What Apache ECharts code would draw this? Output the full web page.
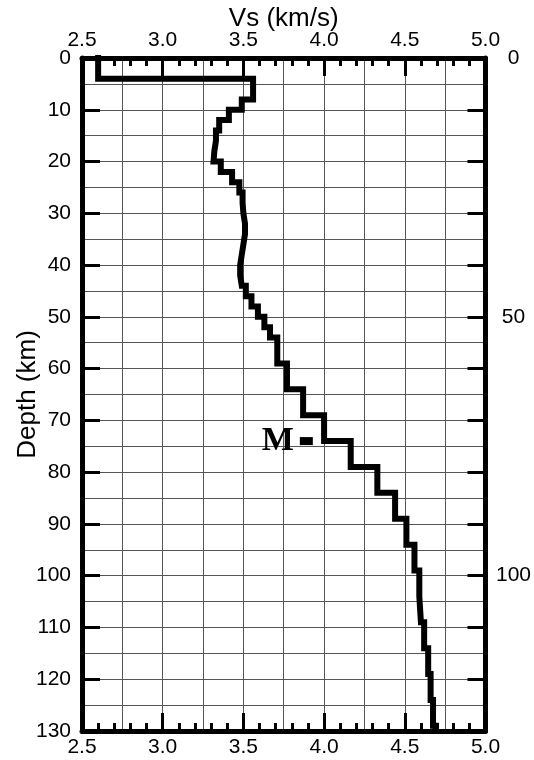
<!DOCTYPE html>
<html lang="en">
<head>
    <meta charset="UTF-8" />
    <title>Vs profile</title>
    <script src="https://cdn.jsdelivr.net/npm/echarts@6/dist/echarts.min.js"></script>
    <style>
        html, body {
            margin: 0;
            padding: 0;
            background: #ffffff;
        }
        #chart {
            width: 534px;
            height: 760px;
        }
    </style>
</head>
<body>
<div id="chart"></div>
<script>
    // layer bottoms (km) and shear velocity of each layer (km/s)
    const layerBottoms = [4, 8, 10, 12, 14, 16, 18, 20, 22, 24, 26, 28, 30, 32, 34, 36, 38, 40, 42, 44, 46, 48, 50, 52, 54,
        59, 64, 69, 74, 79, 84, 89, 94, 99, 104, 109, 114, 119, 124, 129, 130];
    const vsValues = [2.60, 3.56, 3.49, 3.41, 3.35, 3.33, 3.32, 3.315, 3.36, 3.43, 3.475, 3.495, 3.50, 3.51, 3.51, 3.50, 3.49, 3.48, 3.48, 3.49, 3.515, 3.55, 3.59, 3.63, 3.665,
        3.71, 3.77, 3.87, 4.00, 4.165, 4.33, 4.44, 4.51, 4.56, 4.59, 4.60, 4.62, 4.645, 4.66, 4.675, 4.69];
    const mohoDepth = 74;
    const mohoVs = 3.89;
    const mohoLabel = 'M';

    // build the staircase from the layers
    const profile = [];
    let layerTop = 0;
    layerBottoms.forEach((bottom, i) => {
        profile.push([vsValues[i], layerTop]);
        profile.push([vsValues[i], bottom]);
        layerTop = bottom;
    });

    const sans = 'Liberation Sans';
    const black = '#000';

    const chart = echarts.init(document.getElementById('chart'), null, { renderer: 'canvas' });

    const xMain = (position) => ({
        type: 'value',
        position: position,
        min: 2.5,
        max: 5.0,
        interval: 0.5,
        axisLine: { show: true, onZero: false, lineStyle: { color: black, width: 5 } },
        axisTick: { show: true, inside: true, length: 18, lineStyle: { color: black, width: 3 } },
        minorTick: { show: true, splitNumber: 5, length: 8, lineStyle: { color: black, width: 3 } },
        axisLabel: {
            margin: position === 'top' ? 7 : 6,
            color: black,
            fontFamily: sans,
            fontSize: 21,
            formatter: v => v.toFixed(1)
        },
        splitLine: { show: false }
    });

    const option = {
        animation: false,
        grid: { left: 82, right: 47, top: 58, bottom: 29 },
        xAxis: [
            {
                type: 'value',
                min: 2.5,
                max: 5.0,
                interval: 0.25,
                axisLine: { show: false },
                axisTick: { show: false },
                axisLabel: { show: false },
                splitLine: { show: true, lineStyle: { color: '#555', width: 1 } }
            },
            Object.assign(xMain('top'), {
                name: 'Vs (km/s)',
                nameLocation: 'middle',
                nameGap: 26,
                nameMoveOverlap: false,
                nameTextStyle: { color: black, fontFamily: sans, fontSize: 26 }
            }),
            xMain('bottom')
        ],
        yAxis: [
            {
                type: 'value',
                position: 'left',
                inverse: true,
                min: 0,
                max: 130,
                interval: 10,
                name: 'Depth (km)',
                nameLocation: 'middle',
                nameGap: 41,
                nameMoveOverlap: false,
                nameTextStyle: { color: black, fontFamily: sans, fontSize: 26 },
                axisLine: { show: true, onZero: false, lineStyle: { color: black, width: 5 } },
                axisTick: { show: true, inside: true, length: 18, lineStyle: { color: black, width: 3 } },
                axisLabel: { margin: 11, color: black, fontFamily: sans, fontSize: 21 },
                splitLine: { show: false }
            },
            {
                type: 'value',
                position: 'right',
                inverse: true,
                min: 0,
                max: 130,
                interval: 10,
                axisLine: { show: true, onZero: false, lineStyle: { color: black, width: 5 } },
                axisTick: { show: true, inside: true, length: 18, lineStyle: { color: black, width: 3 } },
                axisLabel: {
                    margin: 28,
                    align: 'center',
                    color: black,
                    fontFamily: sans,
                    fontSize: 21,
                    formatter: v => (v % 50 === 0 ? String(v) : '')
                },
                splitLine: { show: false }
            },
            {
                type: 'value',
                position: 'left',
                inverse: true,
                min: 0,
                max: 130,
                interval: 5,
                axisLine: { show: false },
                axisTick: { show: false },
                axisLabel: { show: false },
                splitLine: { show: true, lineStyle: { color: '#555', width: 1 } }
            }
        ],
        series: [
            {
                type: 'line',
                xAxisIndex: 0,
                yAxisIndex: 0,
                data: profile,
                showSymbol: false,
                symbol: 'none',
                lineStyle: { color: black, width: 6, join: 'miter', cap: 'square' },
                z: 5
            },
            {
                type: 'scatter',
                xAxisIndex: 0,
                yAxisIndex: 0,
                data: [[mohoVs, mohoDepth]],
                symbol: 'rect',
                symbolSize: [13, 8],
                itemStyle: { color: black, opacity: 1 },
                label: {
                    show: true,
                    position: 'left',
                    distance: 6,
                    formatter: mohoLabel,
                    color: black,
                    opacity: 1,
                    fontFamily: 'Liberation Serif',
                    fontWeight: 'bold',
                    fontSize: 34
                },
                z: 6
            }
        ]
    };

    chart.setOption(option);
</script>
</body>
</html>
